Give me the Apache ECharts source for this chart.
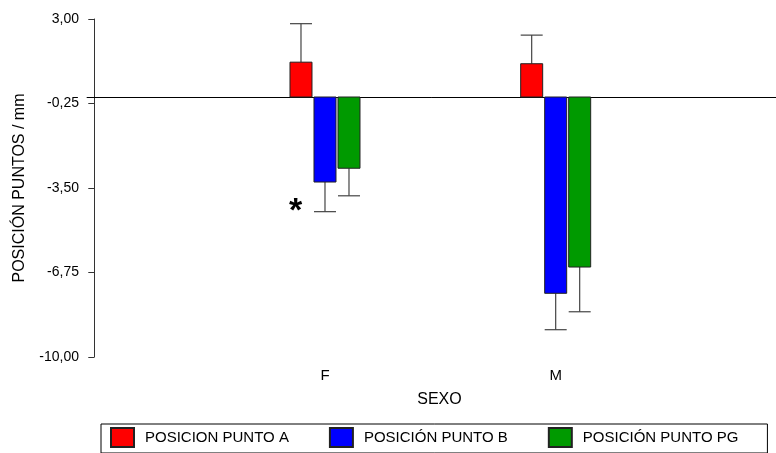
<!DOCTYPE html>
<html>
<head>
<meta charset="utf-8">
<script src="https://cdn.jsdelivr.net/npm/echarts@6/dist/echarts.min.js"></script>
<style>
  html, body { margin: 0; padding: 0; background: #fff; }
  #chart { width: 776px; height: 453px; }
</style>
</head>
<body>
<div id="chart"></div>
<script>
// categories on the x axis (placed at 1 and 2 on a value scale)
const categories = ['F', 'M'];
const catPos = [1, 2];
// means and error (one-sided) per series
const seriesNames = ['POSICION PUNTO A', 'POSICIÓN PUNTO B', 'POSICIÓN PUNTO PG'];
const meanA = [1.34, 1.28];
const errA = [1.48, 1.10];
const meanB = [-3.27, -7.55];
const errB = [1.14, 1.40];
const meanPG = [-2.74, -6.54];
const errPG = [1.06, 1.72];
const yTicks = [-10, -6.75, -3.5, -0.25, 3];

const colors = ['#ff0000', '#0000ff', '#009a00'];
const offsets = [-24, 0, 24];
const barW = 22;

function makeRender(offset) {
  return function (params, api) {
    const x = api.value(0), v = api.value(1), e = api.value(2);
    const base = api.coord([x, 0]);
    const end = api.coord([x, v]);
    const tip = api.coord([x, v >= 0 ? v + e : v - e]);
    const cx = base[0] + offset;
    return {
      type: 'group',
      children: [
        {
          type: 'line',
          shape: { x1: cx, y1: end[1], x2: cx, y2: tip[1] },
          style: { stroke: '#444', lineWidth: 1.2 }
        },
        {
          type: 'line',
          shape: { x1: cx - 11, y1: tip[1], x2: cx + 11, y2: tip[1] },
          style: { stroke: '#444', lineWidth: 1.2 }
        },
        {
          type: 'rect',
          shape: { x: cx - barW / 2, y: Math.min(base[1], end[1]), width: barW, height: Math.abs(end[1] - base[1]) },
          style: { fill: api.visual('color'), stroke: '#222', lineWidth: 1 }
        }
      ]
    };
  };
}

function buildData(means, errs) {
  return catPos.map((p, i) => [p, means[i], errs[i]]);
}

const allMeans = [meanA, meanB, meanPG];
const allErrs = [errA, errB, errPG];

const series = seriesNames.map((name, k) => ({
  name: name,
  type: 'custom',
  renderItem: makeRender(offsets[k]),
  itemStyle: { color: colors[k], borderColor: '#222', borderWidth: 1 },
  encode: { x: 0, y: 1 },
  data: buildData(allMeans[k], allErrs[k]),
  z: 3
}));

series[0].markLine = {
  silent: true,
  symbol: ['none', 'none'],
  label: { show: false },
  lineStyle: { color: '#000', width: 1, type: 'solid' },
  data: [{ yAxis: 0 }],
  z: 2
};

const chart = echarts.init(document.getElementById('chart'));
chart.setOption({
  animation: false,
  textStyle: { fontFamily: 'Liberation Sans, Arial, sans-serif' },
  grid: { left: 87, right: 0, top: 19, bottom: 96 },
  xAxis: {
    type: 'value',
    min: -0.0316,
    max: 2.955,
    name: 'SEXO',
    nameLocation: 'middle',
    nameGap: 35,
    nameTextStyle: { fontSize: 16, color: '#000', padding: [0, 0, 0, 16] },
    splitLine: { show: false },
    axisLine: { lineStyle: { color: '#333', width: 1 } },
    axisTick: { show: true, length: 4, customValues: catPos, lineStyle: { color: '#333' } },
    axisLabel: {
      customValues: catPos,
      fontSize: 15,
      color: '#000',
      margin: 11,
      formatter: v => categories[catPos.indexOf(Math.round(v))] || ''
    }
  },
  yAxis: {
    type: 'value',
    min: -10,
    max: 3,
    name: 'POSICIÓN PUNTOS / mm',
    nameLocation: 'middle',
    nameGap: 59,
    nameTextStyle: { fontSize: 16, color: '#000' },
    splitLine: { show: false },
    axisLine: { show: true, lineStyle: { color: '#333', width: 1 } },
    axisTick: { show: true, length: 6, customValues: yTicks, lineStyle: { color: '#333' } },
    axisLabel: {
      customValues: yTicks,
      fontSize: 14,
      color: '#000',
      margin: 8,
      formatter: v => v.toFixed(2).replace('.', ',')
    }
  },
  legend: {
    left: 101,
    top: 424,
    orient: 'horizontal',
    itemWidth: 23,
    itemHeight: 19,
    itemGap: 40,
    padding: [3, 29, 5, 9],
    borderColor: '#000',
    borderWidth: 1,
    textStyle: { fontSize: 15, color: '#000', padding: [0, 0, 0, 6] },
    icon: 'rect',
    data: seriesNames
  },
  graphic: [
    {
      type: 'text',
      left: 289,
      top: 195,
      style: { text: '*', font: 'bold 34px Liberation Sans', fill: '#000' }
    }
  ],
  series: series
});
</script>
</body>
</html>
